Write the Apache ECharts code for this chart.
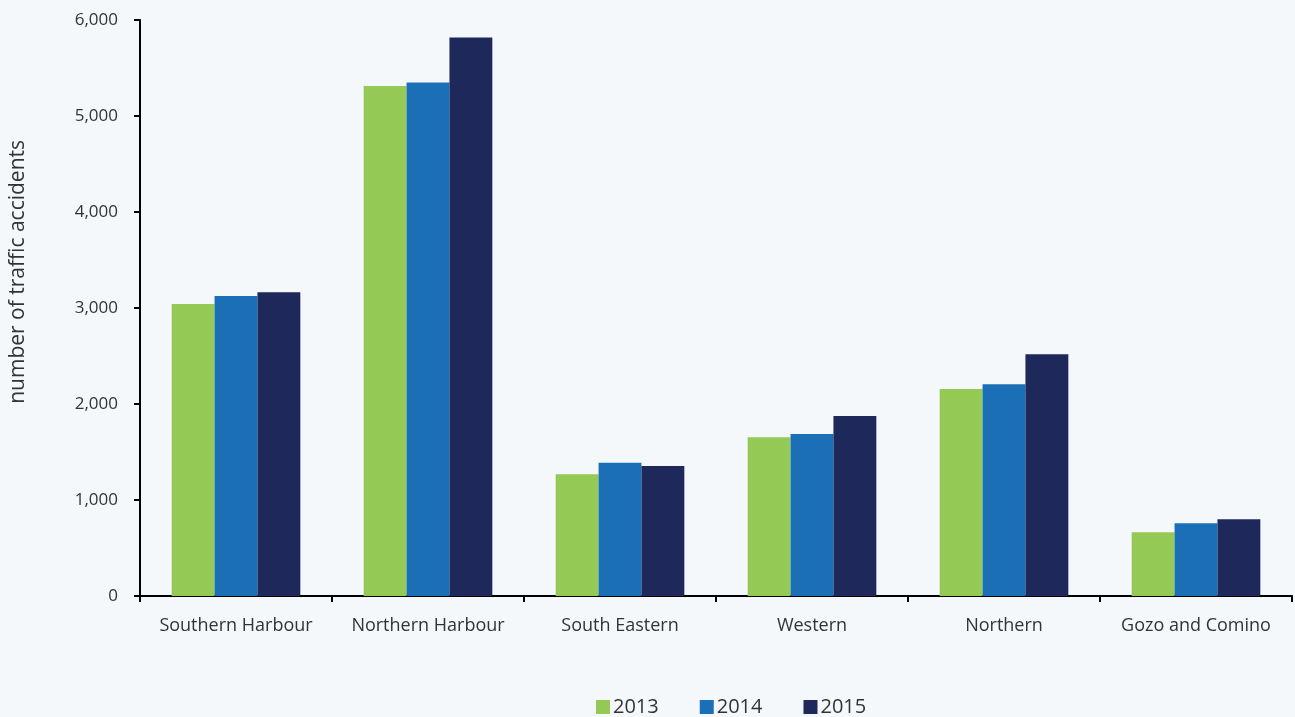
<!DOCTYPE html>
<html>
<head>
<meta charset="utf-8">
<script src="https://cdn.jsdelivr.net/npm/echarts@6/dist/echarts.min.js"></script>
<style>
html,body{margin:0;padding:0;background:#f4f8fb;}
#c{width:1295px;height:717px;}
</style>
</head>
<body>
<div id="c"></div>
<script>
const categories = ["Southern Harbour","Northern Harbour","South Eastern","Western","Northern","Gozo and Comino"];
const years = ["2013","2014","2015"];
const values2013 = [3042, 5312, 1267, 1653, 2156, 663];
const values2014 = [3125, 5350, 1389, 1688, 2205, 757];
const values2015 = [3163, 5819, 1354, 1875, 2517, 799];
const colors = ["#95c955","#1a6fb7","#1f285b"];
const yAxisTitle = "number of traffic accidents";

const font = "'Open Sans', sans-serif";
const chart = echarts.init(document.getElementById('c'));
const seriesData = [values2013, values2014, values2015];
chart.setOption({
  backgroundColor: '#f4f8fb',
  animation: false,
  color: colors,
  grid: {left: 140, right: 3, top: 20, bottom: 121, containLabel: false},
  legend: {
    data: years,
    bottom: -5,
    left: 591,
    itemWidth: 14, itemHeight: 14, itemGap: 41,
    icon: 'rect',
    textStyle: {fontFamily: font, fontSize: 20, color: '#333', padding: [0,0,0,-2]}
  },
  graphic: [{
    type: 'text',
    left: 8, top: 140,
    rotation: Math.PI/2,
    style: {text: yAxisTitle, font: "21px 'Open Sans', sans-serif", fill: '#333'},
  }],
  xAxis: {
    type: 'category',
    data: categories,
    axisLine: {lineStyle: {color: '#000', width: 2}},
    axisTick: {show: true, length: 6, lineStyle: {color: '#000', width: 2}},
    axisLabel: {fontFamily: font, fontSize: 18, color: '#333', margin: 21, interval: 0}
  },
  yAxis: {
    type: 'value',
    min: 0, max: 6000, interval: 1000,
    axisLine: {show: true, lineStyle: {color: '#000', width: 2}},
    axisTick: {show: true, length: 6, lineStyle: {color: '#000', width: 2}},
    splitLine: {show: false},
    axisLabel: {fontFamily: font, fontSize: 17, color: '#333', margin: 22,
      formatter: v => v.toLocaleString('en-US')}
  },
  series: years.map((y, i) => ({
    name: y,
    type: 'bar',
    data: seriesData[i],
    barGap: '0%',
    barCategoryGap: '33%',
    itemStyle: {color: colors[i]}
  }))
});
</script>
</body>
</html>
